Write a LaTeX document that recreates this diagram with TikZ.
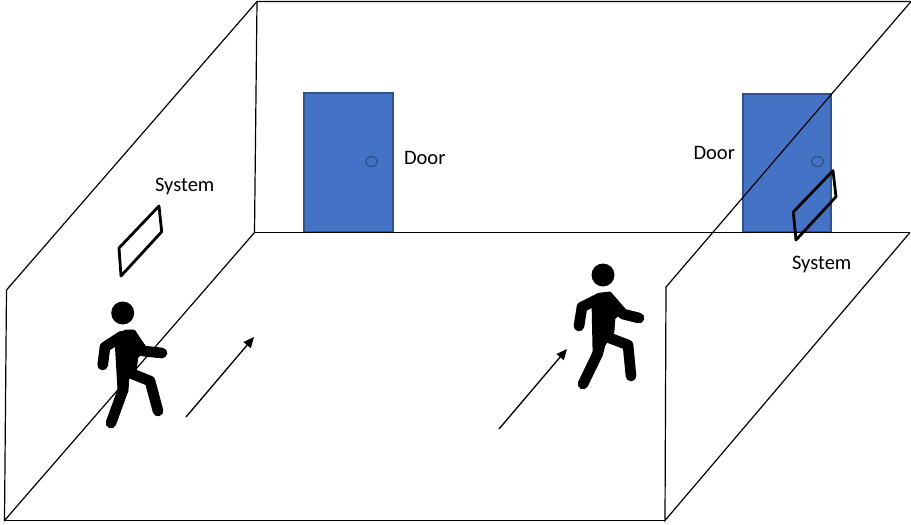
\documentclass[tikz,border=0pt]{standalone}
\usepackage{fontspec}
\setmainfont{Carlito}
\usetikzlibrary{arrows.meta}

\definecolor{doorblue}{RGB}{68,114,196}
\definecolor{doorline}{RGB}{47,82,143}

\tikzset{every picture/.style={line width=0.75pt}}
\tikzset{
    wall/.style={draw=black,line width=0.9pt},
    door/.style={draw=doorline,line width=1pt,fill=doorblue},
    knob/.style={draw=doorline,line width=1pt},
    panel/.style={draw=black,line width=2.1pt,line join=round},
    limb/.style={draw=black,line width=8pt,line cap=round,line join=round},
    torso/.style={fill=black,draw=black,line width=2pt,line join=round},
    walk/.style={draw=black,line width=1pt,-{Triangle[length=8pt,width=7pt]}},
    label/.style={anchor=west,inner sep=0pt,font=\fontsize{15.4}{18}\selectfont}
}

\begin{document}
\begin{tikzpicture}[x=0.75pt,y=0.75pt,yscale=-1,xscale=1]
    \useasboundingbox (0,0) rectangle (911,525);

    %Room corners
    \coordinate (backTL) at (257,1.5);
    \coordinate (backTR) at (911,1.5);
    \coordinate (backBL) at (254.5,232.5);
    \coordinate (backBR) at (910,232.5);
    \coordinate (frontTL) at (6.5,290);
    \coordinate (frontBL) at (4.5,520.5);
    \coordinate (frontTR) at (666,287);
    \coordinate (frontBR) at (665,520.5);

    %Shape: Rectangle [door]
    \draw [door] (304,93) rectangle (393,232);
    \draw [door] (743,94) rectangle (831,232);
    %Shape: Ellipse [knob]
    \draw [knob] (371.5,161.5) ellipse (6 and 5);
    \draw [knob] (817.5,161.5) ellipse (6 and 5);

    %Straight Lines [back wall]
    \draw [wall] (backBL) -- (backTL) -- (backTR);
    \draw [wall] (backBL) -- (backBR);
    %Straight Lines [left wall]
    \draw [wall] (backTL) -- (frontTL) -- (frontBL) -- (backBL);
    %Straight Lines [right wall]
    \draw [wall] (backTR) -- (frontTR) -- (frontBR) -- (backBR);
    %Straight Lines [floor]
    \draw [wall] (frontBL) -- (frontBR);

    %Shape: Polygon [system]
    \draw [panel] (159,206) -- (161.7,231.7) -- (121,276) -- (119,248) -- cycle;
    \draw [panel] (833,170.7) -- (836,196.7) -- (796,240) -- (793.3,212) -- cycle;

    %Walking person, left
    \fill (122.7,313) circle (11.5);
    \draw [torso] (116,342) -- (125,331) -- (134,331) -- (146,349) -- (137,357) -- (135,372) -- (128,378) -- (127,392) -- (119,392) -- cycle;
    \draw [limb] (122,336) -- (105,347) -- (102.7,365);
    \draw [limb] (130,335) -- (143,351) -- (162,353);
    \draw [limb] (123,390) -- (111,423);
    \draw [limb] (130,373) -- (150,381) -- (158,411);

    %Walking person, right
    \fill (603,275) circle (11.5);
    \draw [torso] (593,308) -- (600,294) -- (610,293) -- (624,310) -- (614,318) -- (613,332) -- (604,345) -- (602,353) -- (594,355) -- cycle;
    \draw [limb] (600,298) -- (582,307) -- (579,326);
    \draw [limb] (608,297) -- (623,314) -- (639,318);
    \draw [limb] (598,353) -- (583,384);
    \draw [limb] (607,337) -- (628,345) -- (631,376);

    %Straight Lines [walking direction]
    \coordinate (walkA) at (186,417);
    \coordinate (walkB) at (254,337);
    \coordinate (walkC) at (499,429);
    \coordinate (walkD) at (567,349);
    \draw [walk] (walkA) -- (walkB);
    \draw [walk] (walkC) -- (walkD);

    % Text Node
    \node [label] (systemL) at (154.5,186) {System};
    % Text Node
    \node [label] (doorL) at (403.5,158) {Door};
    % Text Node
    \node [label] (doorR) at (693,153) {Door};
    % Text Node
    \node [label] (systemR) at (791.5,264) {System};
\end{tikzpicture}
\end{document}
